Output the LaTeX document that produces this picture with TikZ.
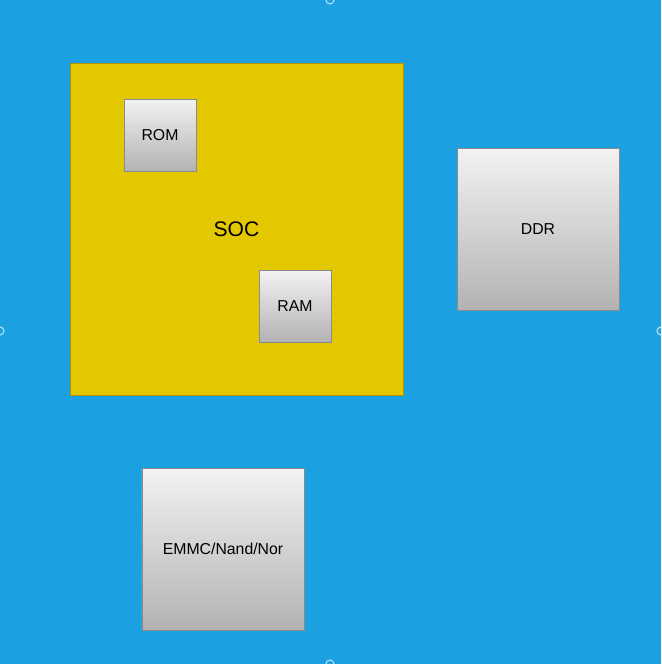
\documentclass[tikz,border=0pt]{standalone}
\usepackage{fontspec}
\setmainfont{Liberation Sans}
\usepackage{xcolor}
\definecolor{bgblue}{HTML}{1BA1E2}
\definecolor{socyellow}{HTML}{E3C800}
\definecolor{socline}{HTML}{B09500}
\definecolor{boxline}{HTML}{8A8A8A}
\usetikzlibrary{positioning}

\begin{document}
\begin{tikzpicture}[x=0.03cm, y=-0.03cm]
  \tikzset{
    chip/.style={
      draw=socline,
      line width=0.8pt,
      fill=socyellow,
      minimum width=9.99cm,
      minimum height=9.96cm,
      font=\fontsize{18}{20}\selectfont,
    },
    smallbox/.style={
      draw=boxline,
      line width=0.8pt,
      top color=white!95!black,
      bottom color=black!30,
      minimum size=2.16cm,
      font=\fontsize{13.5}{15}\selectfont,
    },
    bigbox/.style={
      smallbox,
      minimum size=4.86cm,
    },
    handle/.style={
      draw=white!70!bgblue,
      line width=0.9pt,
    }
  }

  % Background
  \clip (0,0) rectangle (661,664);
  \fill[bgblue] (0,0) rectangle (661,664);

  % SoC with on-chip memories
  \node[chip] (soc) at (236.5,229) {SOC};
  \node[smallbox] (rom) at (160,135) {ROM};
  \node[smallbox] (ram) at (295,306) {RAM};

  % External memories
  \node[bigbox] (ddr) at (538,229) {DDR};
  \node[bigbox] (emmc) at (223,549) {EMMC/Nand/Nor};

  % Selection handles
  \draw[handle] (330,0) circle (4);
  \draw[handle] (0,331) circle (4);
  \draw[handle] (661,331) circle (4);
  \draw[handle] (330,664) circle (4);
\end{tikzpicture}
\end{document}
